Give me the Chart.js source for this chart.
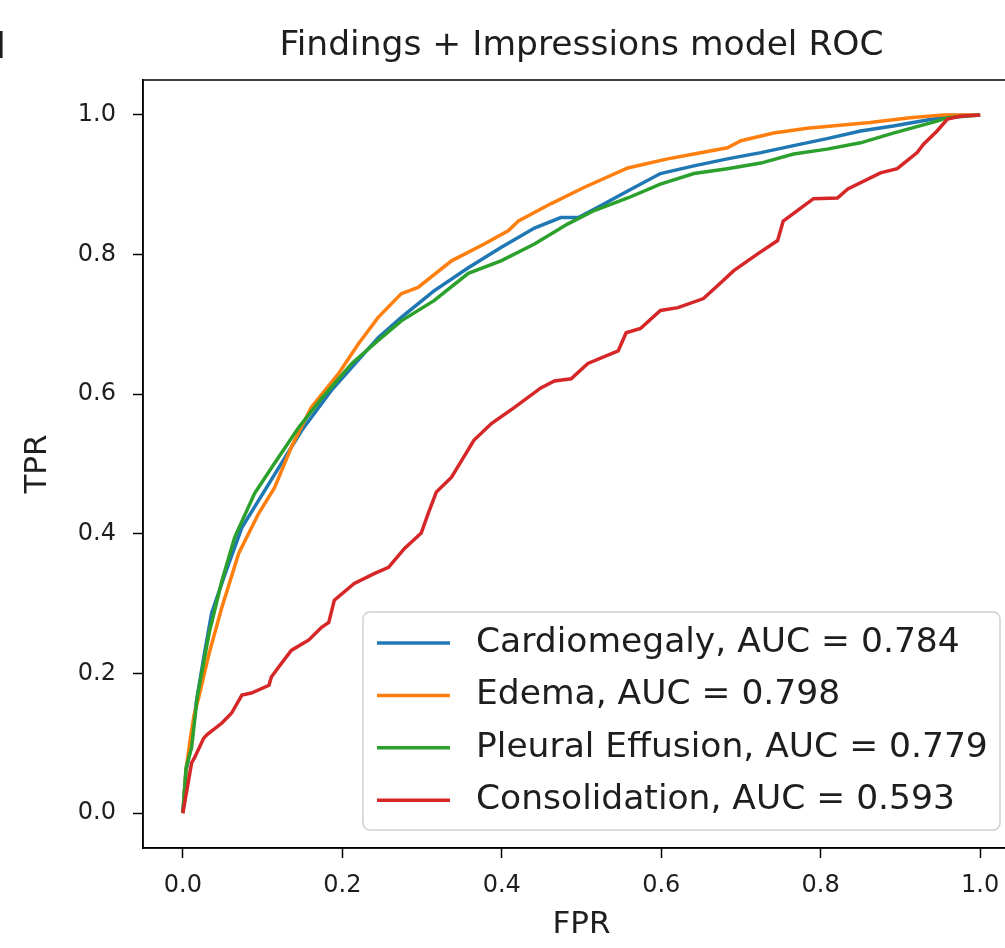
<!DOCTYPE html>
<html>
<head>
<meta charset="utf-8">
<title>Findings + Impressions model ROC</title>
<script src="https://cdn.jsdelivr.net/npm/chart.js@4.4.1/dist/chart.umd.min.js"></script>
<style>
  html, body { margin: 0; padding: 0; background: #fff; overflow: hidden; }
  #wrap { position: relative; width: 1005px; height: 948px; overflow: hidden; }
  #wrap canvas { position: absolute; left: 0; top: 0; }
</style>
</head>
<body>
<div id="wrap"><canvas id="roc" width="1164" height="948"></canvas></div>
<script>
// === DATOS ===
const cardioFpr = [0, 0.004, 0.010, 0.017, 0.027, 0.036, 0.053, 0.074, 0.108, 0.149, 0.186, 0.245, 0.274, 0.315, 0.358, 0.399, 0.441, 0.474, 0.496, 0.524, 0.558, 0.599, 0.641, 0.683, 0.725, 0.766, 0.808, 0.850, 0.891, 0.941, 0.959, 1.0];
const cardioTpr = [0, 0.060, 0.095, 0.160, 0.228, 0.286, 0.343, 0.409, 0.472, 0.548, 0.605, 0.681, 0.710, 0.748, 0.781, 0.810, 0.838, 0.853, 0.853, 0.870, 0.891, 0.916, 0.927, 0.937, 0.946, 0.956, 0.966, 0.977, 0.984, 0.994, 0.999, 1.0];

const edemaFpr = [0, 0.004, 0.009, 0.014, 0.020, 0.033, 0.049, 0.070, 0.095, 0.115, 0.136, 0.161, 0.195, 0.220, 0.245, 0.274, 0.295, 0.337, 0.378, 0.408, 0.421, 0.462, 0.503, 0.558, 0.608, 0.641, 0.683, 0.700, 0.741, 0.783, 0.862, 0.912, 0.954, 1.0];
const edemaTpr = [0, 0.062, 0.104, 0.140, 0.166, 0.229, 0.295, 0.372, 0.429, 0.466, 0.524, 0.581, 0.629, 0.672, 0.710, 0.744, 0.753, 0.791, 0.815, 0.834, 0.848, 0.873, 0.896, 0.924, 0.937, 0.944, 0.953, 0.963, 0.974, 0.981, 0.989, 0.996, 1.0, 1.0];

const pleuralFpr = [0, 0.004, 0.011, 0.018, 0.033, 0.049, 0.065, 0.090, 0.115, 0.145, 0.174, 0.212, 0.245, 0.274, 0.315, 0.358, 0.399, 0.441, 0.483, 0.516, 0.558, 0.599, 0.641, 0.683, 0.725, 0.766, 0.808, 0.850, 0.891, 0.946, 0.959, 1.0];
const pleuralTpr = [0, 0.065, 0.094, 0.166, 0.258, 0.333, 0.395, 0.458, 0.501, 0.552, 0.594, 0.644, 0.677, 0.705, 0.734, 0.773, 0.791, 0.815, 0.844, 0.863, 0.881, 0.901, 0.916, 0.923, 0.931, 0.944, 0.951, 0.960, 0.974, 0.991, 0.996, 1.0];

const consolFpr = [0, 0.011, 0.015, 0.026, 0.030, 0.049, 0.061, 0.074, 0.086, 0.108, 0.111, 0.120, 0.136, 0.158, 0.174, 0.183, 0.190, 0.215, 0.240, 0.258, 0.278, 0.299, 0.308, 0.318, 0.337, 0.365, 0.387, 0.416, 0.449, 0.466, 0.487, 0.508, 0.546, 0.556, 0.574, 0.599, 0.621, 0.653, 0.675, 0.691, 0.721, 0.746, 0.753, 0.791, 0.821, 0.834, 0.875, 0.896, 0.921, 0.929, 0.946, 0.959, 0.975, 1.0];
const consolTpr = [0, 0.072, 0.080, 0.107, 0.112, 0.129, 0.143, 0.169, 0.172, 0.183, 0.195, 0.209, 0.233, 0.248, 0.266, 0.273, 0.305, 0.329, 0.343, 0.352, 0.379, 0.401, 0.430, 0.460, 0.481, 0.534, 0.558, 0.581, 0.609, 0.619, 0.622, 0.644, 0.662, 0.688, 0.694, 0.720, 0.724, 0.737, 0.760, 0.777, 0.801, 0.820, 0.848, 0.880, 0.881, 0.894, 0.917, 0.923, 0.946, 0.958, 0.977, 0.994, 0.998, 1.0];

const seriesNames = ["Cardiomegaly", "Edema", "Pleural Effusion", "Consolidation"];
const aucValues = [0.784, 0.798, 0.779, 0.593];
const axisTicks = [0, 0.2, 0.4, 0.6, 0.8, 1.0];
const chartTitle = "Findings + Impressions model ROC";

// colores tab10 de matplotlib
const seriesColors = ["#1f77b4", "#ff7f0e", "#2ca02c", "#d62728"];
const FONT = "'DejaVu Sans', sans-serif";
const INK = "#1e1e1e";

const toPoints = (xs, ys) => xs.map((x, i) => ({ x: x, y: ys[i] }));
const curves = [
    toPoints(cardioFpr, cardioTpr),
    toPoints(edemaFpr, edemaTpr),
    toPoints(pleuralFpr, pleuralTpr),
    toPoints(consolFpr, consolTpr)
];

// === TÍTULO centrado sobre el área de datos (como matplotlib) ===
const axesTitle = {
    id: "axesTitle",
    afterDraw(chart) {
        const { ctx, chartArea: a } = chart;
        ctx.save();
        ctx.font = `34.5px ${FONT}`;
        ctx.fillStyle = INK;
        ctx.textAlign = "center";
        ctx.textBaseline = "middle";
        ctx.fillText(chartTitle, (a.left + a.right) / 2, 46);
        ctx.restore();
    }
};

// === MARCO COMPLETO (spines arriba/derecha) ===
const frameBox = {
    id: "frameBox",
    afterDatasetsDraw(chart) {
        const { ctx, chartArea: a } = chart;
        ctx.save();
        ctx.strokeStyle = "#000";
        ctx.lineWidth = 1.5;
        ctx.strokeRect(a.left, a.top, a.right - a.left, a.bottom - a.top);
        ctx.restore();
    }
};

// === LEYENDA ESTILO MATPLOTLIB (abajo a la derecha) ===
const rocLegend = {
    id: "rocLegend",
    afterDatasetsDraw(chart) {
        const { ctx, chartArea: a } = chart;
        const right = a.right - 20, bottom = a.bottom - 18;
        const w = 637, h = 218;
        const left = right - w, top = bottom - h;
        ctx.save();
        ctx.beginPath();
        ctx.roundRect(left, top, w, h, 7);
        ctx.fillStyle = "rgba(255,255,255,0.8)";
        ctx.fill();
        ctx.strokeStyle = "#d0d0d0";
        ctx.lineWidth = 1.5;
        ctx.stroke();

        ctx.font = `34.5px ${FONT}`;
        ctx.textBaseline = "middle";
        chart.data.datasets.forEach((ds, i) => {
            const y = top + 31 + i * 52.4;
            ctx.strokeStyle = ds.borderColor;
            ctx.lineWidth = 3.5;
            ctx.beginPath();
            ctx.moveTo(left + 14, y);
            ctx.lineTo(left + 87, y);
            ctx.stroke();
            ctx.fillStyle = INK;
            ctx.fillText(ds.label, left + 113, y);
        });
        ctx.restore();
    }
};

// letra del panel, cortada en el borde izquierdo
const panelTag = {
    id: "panelTag",
    afterDraw(chart) {
        const ctx = chart.ctx;
        ctx.save();
        ctx.font = `36px ${FONT}`;
        ctx.fillStyle = INK;
        ctx.textBaseline = "alphabetic";
        ctx.fillText("d", -17, 58);
        ctx.restore();
    }
};

new Chart(document.getElementById("roc"), {
    type: "line",
    data: {
        datasets: curves.map((pts, i) => ({
            label: `${seriesNames[i]}, AUC = ${aucValues[i].toFixed(3)}`,
            data: pts,
            borderColor: seriesColors[i],
            backgroundColor: seriesColors[i],
            borderWidth: 3.5,
            pointRadius: 0,
            tension: 0,
            fill: false,
            order: curves.length - i
        }))
    },
    options: {
        responsive: false,
        animation: false,
        layout: { padding: { left: 0, right: 144, top: 80, bottom: 0 } },
        plugins: {
            legend: { display: false },
            tooltip: { enabled: false },
            title: { display: false }
        },
        scales: {
            x: {
                type: "linear",
                min: -0.05,
                max: 1.05,
                afterBuildTicks: s => { s.ticks = axisTicks.map(v => ({ value: v })); },
                afterFit: s => { s.height = 100; },
                ticks: {
                    callback: v => Number(v).toFixed(1),
                    color: INK,
                    font: { family: FONT, size: 24 },
                    padding: 13,
                    maxRotation: 0,
                    autoSkip: false
                },
                grid: { drawOnChartArea: false, drawTicks: true, tickLength: 10, tickColor: "#000", tickWidth: 1.5 },
                border: { display: true, color: "#000", width: 1.5 },
                title: {
                    display: true,
                    text: "FPR",
                    color: INK,
                    font: { family: FONT, size: 31 },
                    padding: { top: 0, bottom: 4 }
                }
            },
            y: {
                type: "linear",
                min: -0.05,
                max: 1.05,
                afterBuildTicks: s => { s.ticks = axisTicks.map(v => ({ value: v })); },
                afterFit: s => { s.width = 143; },
                ticks: {
                    callback: v => Number(v).toFixed(1),
                    color: INK,
                    font: { family: FONT, size: 24 },
                    padding: 17,
                    autoSkip: false
                },
                grid: { drawOnChartArea: false, drawTicks: true, tickLength: 10, tickColor: "#000", tickWidth: 1.5 },
                border: { display: true, color: "#000", width: 1.5 },
                title: {
                    display: true,
                    text: "TPR",
                    color: INK,
                    font: { family: FONT, size: 31 },
                    padding: { top: 19, bottom: 0 }
                }
            }
        }
    },
    plugins: [frameBox, rocLegend, panelTag, axesTitle]
});
</script>
</body>
</html>
